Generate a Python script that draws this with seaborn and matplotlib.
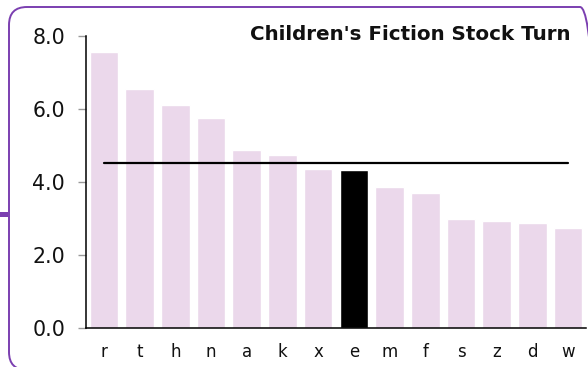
import matplotlib
matplotlib.use("Agg")
import matplotlib.pyplot as plt
import seaborn as sns
import pandas as pd
from matplotlib.patches import FancyBboxPatch, Rectangle

categories = ["r", "t", "h", "n", "a", "k", "x", "e", "m", "f", "s", "z", "d", "w"]
values = [7.57, 6.55, 6.11, 5.76, 4.88, 4.73, 4.35, 4.33, 3.87, 3.70, 2.98, 2.94, 2.88, 2.73]
highlight = "e"
reference_value = 4.52
title = "Children's Fiction Stock Turn"
yticks = [0.0, 2.0, 4.0, 6.0, 8.0]

bar_color = "#ebd8eb"
hi_color = "#000000"
frame_color = "#7b3fb0"

sns.set_theme(style="white")
plt.rcParams['font.family'] = ['DejaVu Sans']

W, H = 588, 367
fig = plt.figure(figsize=(W / 100, H / 100), dpi=100)

# background axes in pixel units for the frame decoration
bg = fig.add_axes([0, 0, 1, 1], zorder=-1)
bg.set_xlim(0, W)
bg.set_ylim(0, H)
bg.axis("off")
bg.add_patch(FancyBboxPatch((9, -3), 589, 363,
                            boxstyle="round,pad=0,rounding_size=18",
                            fill=False, edgecolor=frame_color, lw=1.4, clip_on=False))
bg.add_patch(Rectangle((0, H - 217), 8, 5, facecolor=frame_color, edgecolor="none"))

ax = fig.add_axes([86 / W, 39 / H, 500 / W, 292 / H])
ax.patch.set_alpha(0)

df = pd.DataFrame({"cat": categories, "val": values})
palette = {c: (hi_color if c == highlight else bar_color) for c in categories}
sns.barplot(data=df, x="cat", y="val", hue="cat", palette=palette, legend=False,
            width=0.8, ax=ax, saturation=1)

ax.plot([0, len(categories) - 1], [reference_value, reference_value], color="black", lw=1.6)

ax.set_xlim(-0.5, len(categories) - 0.5)
ax.set_ylim(0, 8.0)
ax.set_yticks(yticks)
ax.set_yticklabels([f"{v:.1f}" for v in yticks], fontsize=14.8, color="#111111")
ax.tick_params(axis="y", length=6, width=1.0, color="#999999", pad=9, left=True)
ax.tick_params(axis="x", length=0, pad=11, labelsize=12, labelcolor="#111111")
ax.set_xlabel("")
ax.set_ylabel("")
for s in ["top", "right"]:
    ax.spines[s].set_visible(False)
for s in ["left", "bottom"]:
    ax.spines[s].set_color("black")
    ax.spines[s].set_linewidth(1.1)

ax.text(571 / W, 1 - 35 / H, title, transform=fig.transFigure, ha="right", va="center",
        fontsize=14.3, fontweight="bold", color="#111111")

fig.savefig("out.png", dpi=100)
